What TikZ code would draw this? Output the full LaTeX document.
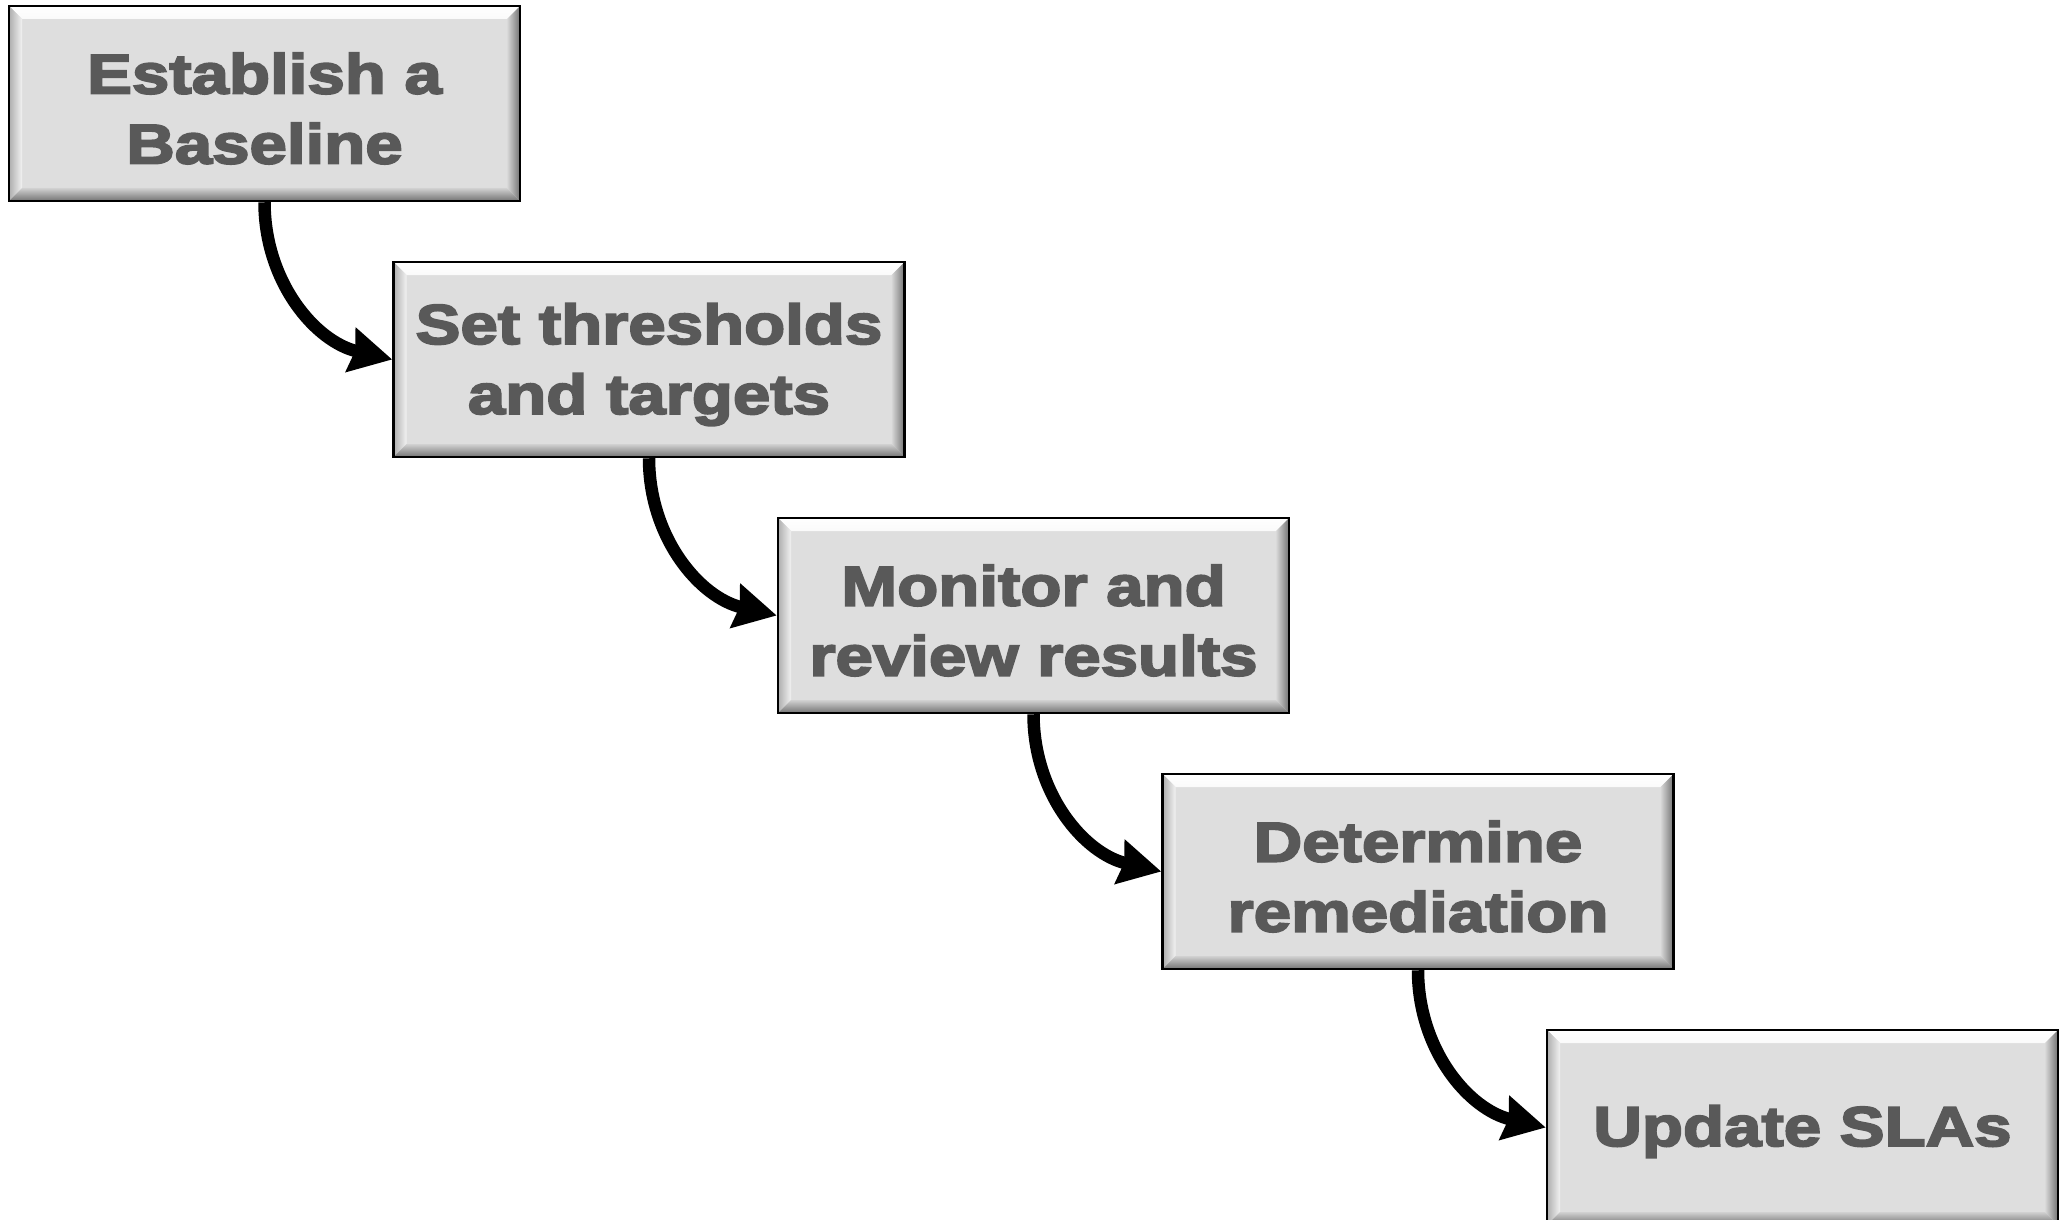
\documentclass[tikz,border=0pt]{standalone}
\usepackage{fontspec}
\newfontfamily\boxfont{Liberation Sans}[BoldFeatures={FakeBold=3.5,FakeStretch=1.2}]
\usetikzlibrary{arrows.meta,calc}
\definecolor{facegray}{HTML}{DEDEDE}
\definecolor{textgray}{HTML}{595959}
\tikzset{
  stepbox/.style={draw=black, line width=2.5pt, fill=facegray,
    minimum width=511pt, minimum height=195pt, inner sep=0pt,
    path picture={
      \coordinate (pNW) at (path picture bounding box.north west);
      \coordinate (pNE) at (path picture bounding box.north east);
      \coordinate (pSW) at (path picture bounding box.south west);
      \coordinate (pSE) at (path picture bounding box.south east);
      \shade[top color=white, bottom color=white!85!facegray]
        (pNW) -- (pNE) -- ($(pNE)+(-13pt,-13pt)$) -- ($(pNW)+(13pt,-13pt)$) -- cycle;
      \shade[left color=black!32, right color=white!60!facegray]
        (pNW) -- ($(pNW)+(13pt,-13pt)$) -- ($(pSW)+(13pt,13pt)$) -- (pSW) -- cycle;
      \shade[bottom color=black!55, top color=black!18]
        (pSW) -- ($(pSW)+(13pt,13pt)$) -- ($(pSE)+(-13pt,13pt)$) -- (pSE) -- cycle;
      \shade[right color=black!55, left color=black!15]
        (pNE) -- (pSE) -- ($(pSE)+(-13pt,13pt)$) -- ($(pNE)+(-13pt,-13pt)$) -- cycle;
    }},
  steptext/.style={inner sep=0pt, align=center, text=textgray,
    font=\boxfont\bfseries\fontsize{56}{70}\selectfont},
  flow/.style={line width=12.5pt, -{Stealth[length=42pt,width=44pt,inset=4pt]}}
}
\begin{document}
\begin{tikzpicture}[x=1pt,y=1pt]
\useasboundingbox (0,0) rectangle (2065,-1220);
\fill[white] (0,0) rectangle (2065,-1220);
\clip (0,0) rectangle (2065,-1220);
\node[stepbox] (b1) at (264.5,-103.5) {};
\node[stepbox] (b2) at (649,-359.5) {};
\node[stepbox] (b3) at (1033.5,-615.5) {};
\node[stepbox] (b4) at (1418,-871.5) {};
\node[stepbox] (b5) at (1802.5,-1127.5) {};
\node[steptext] (t1) at ([yshift=-5pt]b1.center) {Establish a\\Baseline};
\node[steptext] (t2) at ([yshift=-5pt]b2.center) {Set thresholds\\and targets};
\node[steptext] (t3) at ([yshift=-5pt]b3.center) {Monitor and\\review results};
\node[steptext] (t4) at ([yshift=-5pt]b4.center) {Determine\\remediation};
\node[steptext] (t5) at ([yshift=-4pt]b5.center) {Update SLAs};
\draw[flow] (b1.south) to[out=-90,in=167] (b2.west);
\draw[flow] (b2.south) to[out=-90,in=167] (b3.west);
\draw[flow] (b3.south) to[out=-90,in=167] (b4.west);
\draw[flow] (b4.south) to[out=-90,in=167] (b5.west);
\end{tikzpicture}
\end{document}
